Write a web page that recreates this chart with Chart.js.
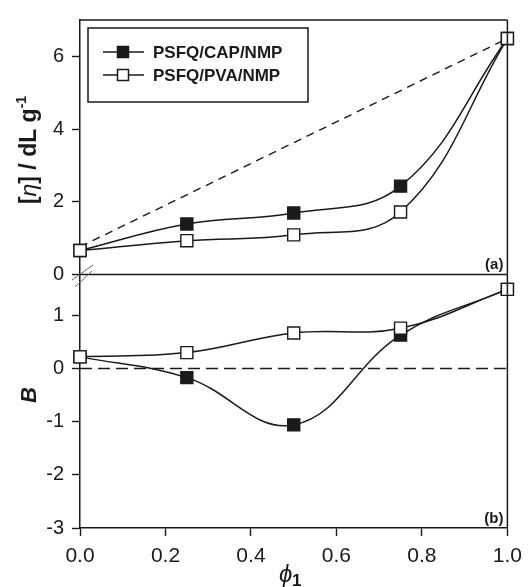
<!DOCTYPE html>
<html>
<head>
<meta charset="utf-8">
<script src="https://cdn.jsdelivr.net/npm/chart.js@4"></script>
<style>
  html, body { margin: 0; padding: 0; background: #fff; }
  #wrap { width: 530px; height: 587px; }
</style>
</head>
<body>
<div id="wrap"><canvas id="chart" width="530" height="587"></canvas></div>
<script>
// volume fraction of polymer 1
const phi = [0, 0.25, 0.5, 0.75, 1.0];
const seriesNames = ['PSFQ/CAP/NMP', 'PSFQ/PVA/NMP'];

// (a) intrinsic viscosity
const etaCAP = [0.66, 1.39, 1.69, 2.43, 6.49];
const etaPVA = [0.66, 0.93, 1.09, 1.72, 6.49];
const etaIdealX = [0, 1];
const etaIdeal = [0.76, 6.49];

// (b) interaction parameter B
const bCAP = [0.22, -0.17, -1.06, 0.63, 1.49];
const bPVA = [0.22, 0.30, 0.67, 0.76, 1.49];
const bZeroX = [0, 1];
const bZero = [0, 0];

const xTicks = [0, 0.2, 0.4, 0.6, 0.8, 1.0];
const yTicksA = [0, 2, 4, 6];
const yTicksB = [-3, -2, -1, 0, 1];

const pts = (xs, ys) => xs.map((x, i) => ({ x: x, y: ys[i] }));
const FONT = '"Liberation Sans", Arial, sans-serif';
const INK = '#1a1a1a';

function marker(fill) {
  return {
    borderColor: INK, borderWidth: 1.5, tension: 0.4,
    pointStyle: 'rect', pointRadius: 8.5, pointHoverRadius: 8.5,
    pointBackgroundColor: fill, pointBorderColor: INK, pointBorderWidth: 1.4,
    clip: false
  };
}

const decor = {
  id: 'decor',
  afterDatasetsDraw(chart) {
    const ctx = chart.ctx;
    const a = chart.chartArea;
    const yA = chart.scales.yA;
    ctx.save();
    ctx.strokeStyle = INK;
    ctx.lineWidth = 1.5;
    ctx.beginPath();
    ctx.moveTo(a.left, a.top); ctx.lineTo(a.right, a.top);
    ctx.moveTo(a.right, a.top); ctx.lineTo(a.right, a.bottom);
    ctx.moveTo(a.left, yA.bottom); ctx.lineTo(a.right, yA.bottom);
    ctx.stroke();

    // axis break marks
    ctx.strokeStyle = '#666';
    ctx.lineWidth = 1;
    ctx.beginPath();
    ctx.moveTo(72, 280); ctx.lineTo(93, 265);
    ctx.moveTo(75, 287); ctx.lineTo(92, 271);
    ctx.stroke();

    // legend
    const lx = 88, ly = 28, lw = 220, lh = 74;
    ctx.fillStyle = '#fff';
    ctx.fillRect(lx, ly, lw, lh);
    ctx.strokeStyle = INK;
    ctx.lineWidth = 1.5;
    ctx.strokeRect(lx, ly, lw, lh);
    const fills = [INK, '#fff'];
    [52, 75].forEach((y, i) => {
      ctx.lineWidth = 1.5;
      ctx.beginPath();
      ctx.moveTo(103, y); ctx.lineTo(144, y);
      ctx.stroke();
      ctx.fillStyle = fills[i];
      ctx.fillRect(117.5, y - 5.5, 11, 11);
      ctx.strokeRect(117.5, y - 5.5, 11, 11);
      ctx.fillStyle = INK;
      ctx.font = 'bold 17px ' + FONT;
      ctx.textBaseline = 'middle';
      ctx.textAlign = 'left';
      ctx.fillText(seriesNames[i], 153, y + 1);
    });

    // panel tags
    ctx.font = 'bold 15px ' + FONT;
    ctx.textAlign = 'right';
    ctx.textBaseline = 'alphabetic';
    ctx.fillText('(a)', a.right - 4, yA.bottom - 5);
    ctx.fillText('(b)', a.right - 4, a.bottom - 5);

    // y title (a)
    ctx.save();
    ctx.translate(36, 150);
    ctx.rotate(-Math.PI / 2);
    ctx.textAlign = 'left';
    ctx.textBaseline = 'alphabetic';
    const parts = [
      ['[', 'bold 23px ' + FONT, 0],
      ['\u03B7', 'italic 23px ' + FONT, 0],
      ['] / dL g', 'bold 23px ' + FONT, 0],
      ['-1', 'bold 14px ' + FONT, -10]
    ];
    let w = 0;
    parts.forEach(p => { ctx.font = p[1]; w += ctx.measureText(p[0]).width; });
    let x = -w / 2;
    parts.forEach(p => {
      ctx.font = p[1];
      ctx.fillText(p[0], x, p[2]);
      x += ctx.measureText(p[0]).width;
    });
    ctx.restore();

    // y title (b)
    ctx.save();
    ctx.translate(36, 395);
    ctx.rotate(-Math.PI / 2);
    ctx.font = 'italic bold 22px ' + FONT;
    ctx.textAlign = 'center';
    ctx.textBaseline = 'alphabetic';
    ctx.fillText('B', 0, 0);
    ctx.restore();

    // x title
    ctx.font = 'italic 24px ' + FONT;
    ctx.textAlign = 'left';
    ctx.textBaseline = 'alphabetic';
    ctx.fillText('\u03D5', 279, 582);
    ctx.font = 'bold 17px ' + FONT;
    ctx.fillText('1', 292, 586);
    ctx.restore();
  }
};

function yScale(min, max, ticks, weight) {
  return {
    type: 'linear', position: 'left', stack: 'panels', stackWeight: weight,
    min: min, max: max,
    afterBuildTicks: s => { s.ticks = ticks.map(v => ({ value: v })); },
    afterFit: s => { s.width = 80; },
    grid: { drawOnChartArea: false, drawTicks: true, tickLength: 8, tickColor: INK, tickWidth: 1.4 },
    border: { display: true, color: INK, width: 1.5 },
    ticks: { color: INK, padding: 8, font: { family: FONT, size: 20 }, callback: v => String(v) }
  };
}

new Chart(document.getElementById('chart').getContext('2d'), {
  type: 'line',
  data: {
    datasets: [
      Object.assign({ label: seriesNames[1], yAxisID: 'yA', order: 0, data: pts(phi, etaPVA) }, marker('#fff')),
      Object.assign({ label: seriesNames[0], yAxisID: 'yA', order: 1, data: pts(phi, etaCAP) }, marker(INK)),
      { label: 'ideal', yAxisID: 'yA', order: 2, data: pts(etaIdealX, etaIdeal), borderColor: INK, borderWidth: 1.4, borderDash: [8, 6], pointRadius: 0, tension: 0 },
      Object.assign({ label: seriesNames[1] + ' B', yAxisID: 'yB', order: 0, data: pts(phi, bPVA) }, marker('#fff')),
      Object.assign({ label: seriesNames[0] + ' B', yAxisID: 'yB', order: 1, data: pts(phi, bCAP) }, marker(INK)),
      { label: 'zero', yAxisID: 'yB', order: 2, data: pts(bZeroX, bZero), borderColor: INK, borderWidth: 1.4, borderDash: [12, 6], pointRadius: 0, tension: 0 }
    ]
  },
  options: {
    responsive: false,
    animation: false,
    layout: { padding: { left: 0, right: 18, top: 15, bottom: 0 } },
    plugins: { legend: { display: false }, tooltip: { enabled: false } },
    scales: {
      x: {
        type: 'linear', min: 0, max: 1,
        afterBuildTicks: s => { s.ticks = xTicks.map(v => ({ value: v })); },
        afterFit: s => { s.height = 59; },
        grid: { drawOnChartArea: false, drawTicks: true, tickLength: 8, tickColor: INK, tickWidth: 1.4 },
        border: { display: true, color: INK, width: 1.5 },
        ticks: { color: INK, padding: 8, maxRotation: 0, font: { family: FONT, size: 21 }, callback: v => Number(v).toFixed(1) }
      },
      yB: yScale(-3, 1.77, yTicksB, 256),
      yA: yScale(0, 7, yTicksA, 257)
    }
  },
  plugins: [decor]
});
</script>
</body>
</html>
